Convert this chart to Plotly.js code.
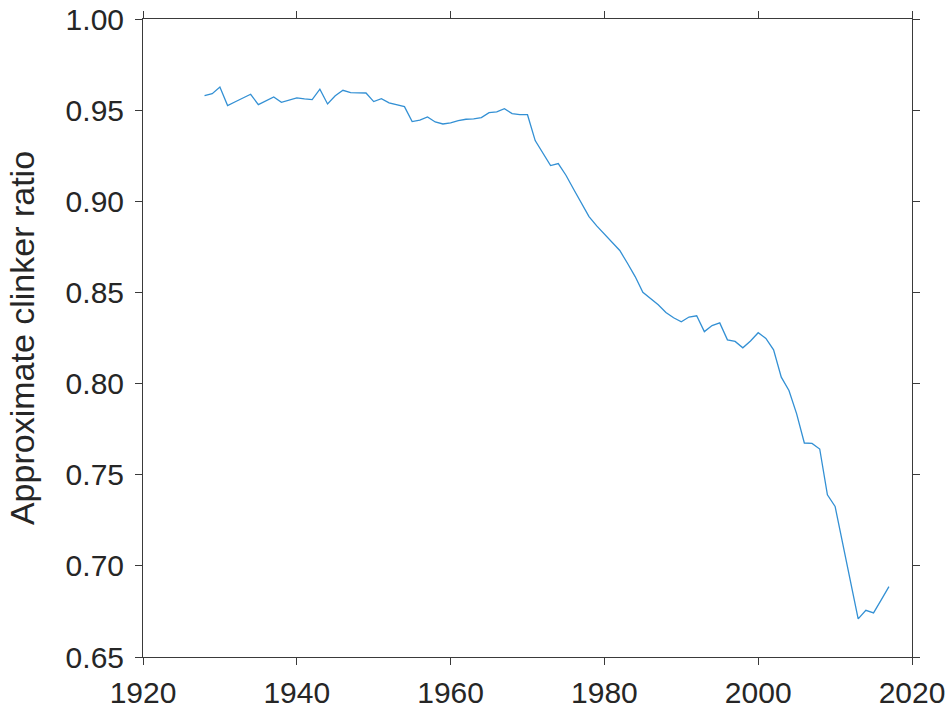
<!DOCTYPE html>
<html>
<head>
<meta charset="utf-8">
<script src="https://cdn.plot.ly/plotly-3.0.1.min.js"></script>
<style>html,body{margin:0;padding:0;background:#fff;}#chart{width:949px;height:713px;}</style>
</head>
<body>
<div id="chart"></div>
<script>
var years = [1928,1929,1930,1931,1932,1933,1934,1935,1936,1937,1938,1939,1940,1941,1942,1943,1944,1945,1946,1947,1948,1949,1950,1951,1952,1953,1954,1955,1956,1957,1958,1959,1960,1961,1962,1963,1964,1965,1966,1967,1968,1969,1970,1971,1972,1973,1974,1975,1976,1977,1978,1979,1980,1981,1982,1983,1984,1985,1986,1987,1988,1989,1990,1991,1992,1993,1994,1995,1996,1997,1998,1999,2000,2001,2002,2003,2004,2005,2006,2007,2008,2009,2010,2011,2012,2013,2014,2015,2016,2017];
var clinkerRatio = [0.9579,0.9590,0.9627,0.9525,0.9546,0.9566,0.9587,0.9530,0.9551,0.9572,0.9543,0.9555,0.9567,0.9562,0.9558,0.9615,0.9534,0.9579,0.9609,0.9596,0.9595,0.9594,0.9547,0.9563,0.9540,0.9528,0.9519,0.9437,0.9445,0.9463,0.9435,0.9424,0.9430,0.9442,0.9450,0.9452,0.9459,0.9486,0.9490,0.9508,0.9481,0.9475,0.9475,0.9333,0.9264,0.9196,0.9207,0.9143,0.9066,0.8993,0.8916,0.8865,0.8820,0.8776,0.8730,0.8660,0.8587,0.8501,0.8466,0.8432,0.8390,0.8361,0.8339,0.8365,0.8372,0.8285,0.8318,0.8333,0.8240,0.8231,0.8196,0.8234,0.8279,0.8248,0.8185,0.8035,0.7962,0.7834,0.7674,0.7672,0.7641,0.7390,0.7326,0.7118,0.6911,0.6709,0.6756,0.6742,0.6813,0.6886];
var xTicks = [1920,1940,1960,1980,2000,2020];
var yTicks = [0.65,0.70,0.75,0.80,0.85,0.90,0.95,1.00];
var yTickLabels = ['0.65','0.70','0.75','0.80','0.85','0.90','0.95','1.00'];

var trace = {
  x: years, y: clinkerRatio, type: 'scatter', mode: 'lines',
  line: {color: '#3390d4', width: 1.3}, hoverinfo: 'none'
};
var axisCommon = {
  showgrid: false, zeroline: false, showline: true, linecolor: '#3a3a3a', linewidth: 1,
  mirror: 'ticks', ticks: 'outside', ticklen: 7, tickwidth: 1, tickcolor: '#3a3a3a',
  tickfont: {family: 'Liberation Sans, Arial, sans-serif', size: 30, color: '#262626'}
};
var layout = {
  width: 949, height: 713,
  margin: {l: 143, r: 37, t: 19, b: 56, pad: 0},
  paper_bgcolor: '#fff', plot_bgcolor: '#fff',
  showlegend: false,
  xaxis: Object.assign({}, axisCommon, {range: [1920, 2020], tickmode: 'array', tickvals: xTicks, ticktext: xTicks.map(String), ticklabelstandoff: 2}),
  yaxis: Object.assign({}, axisCommon, {range: [0.65, 1.00], tickmode: 'array', tickvals: yTicks, ticktext: yTickLabels, ticklabelstandoff: 5,
    title: {text: 'Approximate clinker ratio', font: {family: 'Liberation Sans, Arial, sans-serif', size: 34, color: '#262626'}, standoff: 20}})
};
Plotly.newPlot('chart', [trace], layout, {staticPlot: true, displayModeBar: false});
</script>
</body>
</html>
